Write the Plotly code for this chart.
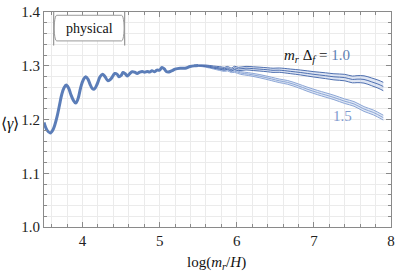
import plotly.graph_objects as go

# ---- data ----
x_main = [3.50, 3.54, 3.58, 3.62, 3.667, 3.70, 3.731, 3.76, 3.788, 3.82, 3.847, 3.88, 3.911, 3.94,
          3.976, 4.01, 4.04, 4.07, 4.096, 4.125, 4.152, 4.19, 4.225, 4.258, 4.29, 4.33, 4.37, 4.418,
          4.45, 4.473, 4.50, 4.524, 4.55, 4.58, 4.61, 4.644, 4.675, 4.708, 4.74, 4.773, 4.805, 4.837,
          4.87, 4.90, 4.935, 4.965, 5.00, 5.03, 5.06, 5.086, 5.11, 5.137, 5.17, 5.20, 5.266, 5.33,
          5.394, 5.45, 5.50]
y_main = [1.1946, 1.180, 1.175, 1.182, 1.204, 1.226, 1.247, 1.259, 1.264, 1.258, 1.247, 1.236, 1.2306,
          1.238, 1.2596, 1.274, 1.2794, 1.275, 1.266, 1.258, 1.2566, 1.266, 1.279, 1.2844, 1.280,
          1.272, 1.276, 1.2855, 1.284, 1.2794, 1.282, 1.2874, 1.2855, 1.281, 1.285, 1.2887, 1.288,
          1.2856, 1.288, 1.2893, 1.288, 1.2893, 1.2885, 1.2905, 1.289, 1.2918, 1.292, 1.2967, 1.294,
          1.2893, 1.2885, 1.2893, 1.2915, 1.2937, 1.2955, 1.2955, 1.2985, 1.2998, 1.3004]

x_10 = [5.40, 5.50, 5.60, 5.70, 5.78, 5.84, 5.88, 5.93, 5.97, 6.02, 6.12, 6.22, 6.30, 6.40, 6.47,
        6.55, 6.70, 6.83, 7.00, 7.15, 7.26, 7.40, 7.50, 7.56, 7.65, 7.75, 7.83, 7.90]
y_10 = [1.2990, 1.3004, 1.2998, 1.2975, 1.2960, 1.2945, 1.2960, 1.2930, 1.2960, 1.2940, 1.2955,
        1.2945, 1.2937, 1.2925, 1.2915, 1.2918, 1.2895, 1.2874, 1.2840, 1.2815, 1.2794, 1.2780,
        1.2745, 1.2751, 1.2745, 1.2700, 1.2660, 1.2614]
err_10 = [0.0008, 0.001, 0.0015, 0.002, 0.0023, 0.0025, 0.0027, 0.0028, 0.003, 0.0031, 0.0033,
          0.0035, 0.0036, 0.0037, 0.0039, 0.004, 0.0043, 0.0046, 0.005, 0.0054, 0.0057, 0.006,
          0.0063, 0.0065, 0.0068, 0.0072, 0.0075, 0.0078]

x_15 = [5.40, 5.50, 5.60, 5.70, 5.78, 5.84, 5.88, 5.93, 5.97, 6.05, 6.15, 6.30, 6.45, 6.55, 6.66,
        6.80, 6.91, 7.05, 7.26, 7.40, 7.52, 7.65, 7.77, 7.90]
y_15 = [1.2990, 1.3000, 1.2985, 1.2955, 1.2930, 1.2915, 1.2925, 1.2895, 1.2900, 1.2865, 1.2845,
        1.2805, 1.2755, 1.2720, 1.2690, 1.2625, 1.2566, 1.2500, 1.2410, 1.2340, 1.2290, 1.2195,
        1.2132, 1.2035]
err_15 = [0.0008, 0.001, 0.0013, 0.0016, 0.0018, 0.002, 0.0021, 0.0022, 0.0023, 0.0025, 0.0027,
          0.003, 0.0032, 0.0033, 0.0035, 0.0036, 0.0038, 0.004, 0.0041, 0.0042, 0.0043, 0.0044,
          0.0045, 0.0045]

x_ticks = [4, 5, 6, 7, 8]
y_ticks = [1.0, 1.1, 1.2, 1.3, 1.4]

SERIF = "Liberation Serif"
BLUE = "#5B7DB8"
BLUE10 = "#4F70B0"
BLUE15 = "#8CA6D6"

fig = go.Figure()


def band(xs, ys, es, line_col, fill_col, w):
    up = [y + e for y, e in zip(ys, es)]
    lo = [y - e for y, e in zip(ys, es)]
    fig.add_trace(go.Scatter(x=xs, y=lo, mode="lines", line=dict(color=line_col, width=w, shape="spline"),
                             hoverinfo="skip", showlegend=False))
    fig.add_trace(go.Scatter(x=xs, y=up, mode="lines", line=dict(color=line_col, width=w, shape="spline"),
                             fill="tonexty", fillcolor=fill_col, hoverinfo="skip", showlegend=False))
    fig.add_trace(go.Scatter(x=xs, y=ys, mode="lines", line=dict(color=line_col, width=w, shape="spline"),
                             hoverinfo="skip", showlegend=False))


band(x_15, y_15, err_15, BLUE15, "rgba(170,192,228,0.35)", 1.0)
band(x_10, y_10, err_10, BLUE10, "rgba(150,172,218,0.30)", 1.0)

fig.add_trace(go.Scatter(x=x_main, y=y_main, mode="lines",
                         line=dict(color=BLUE, width=3, shape="spline", smoothing=1.0),
                         hoverinfo="skip", showlegend=False))

axis_common = dict(
    showline=True, linecolor="#8a8a8a", linewidth=1, mirror="ticks",
    ticks="inside", ticklen=5, tickcolor="#8a8a8a", tickwidth=1,
    showgrid=True, gridcolor="#ebebeb", gridwidth=1, zeroline=False,
    tickfont=dict(family=SERIF, size=15, color="#222"),
)

fig.update_layout(
    width=399, height=274,
    margin=dict(l=44, r=4, t=11, b=47),
    paper_bgcolor="white", plot_bgcolor="white",
    font=dict(family=SERIF),
    xaxis=dict(range=[3.5, 8], tickvals=x_ticks, ticktext=[str(v) for v in x_ticks],
               minor=dict(dtick=0.2, tick0=3.4, ticks="inside", ticklen=3, tickcolor="#8a8a8a",
                          showgrid=True, gridcolor="#ebebeb"),
               **axis_common),
    yaxis=dict(range=[1.0, 1.4], tickvals=y_ticks, ticktext=["%.1f" % v for v in y_ticks],
               minor=dict(dtick=0.02, tick0=1.0, ticks="inside", ticklen=3, tickcolor="#8a8a8a",
                          showgrid=True, gridcolor="#ebebeb"),
               **axis_common),
)

# "physical" box (rounded rectangle)
x0, x1, y0, y1 = 3.625, 4.546, 1.3462, 1.3939
rx, ry = 0.04, 0.056
path = (f"M {x0+rx},{y0} L {x1-rx},{y0} Q {x1},{y0} {x1},{y0+ry} L {x1},{y1-ry} "
        f"Q {x1},{y1} {x1-rx},{y1} L {x0+rx},{y1} Q {x0},{y1} {x0},{y1-ry} L {x0},{y0+ry} "
        f"Q {x0},{y0} {x0+rx},{y0} Z")
fig.add_shape(type="path", path=path, xref="x", yref="y",
              line=dict(color="#9a9a9a", width=1), fillcolor="white", layer="above")
fig.add_annotation(x=(x0 + x1) / 2, y=(y0 + y1) / 2, xref="x", yref="y", text="physical",
                   showarrow=False, font=dict(family=SERIF, size=14, color="#111"))

fig.add_annotation(x=7.04, y=1.3184, xref="x", yref="y", showarrow=False,
                   text="<i>m<sub>r</sub></i> Δ<sub><i>f</i></sub> = <span style='color:#5E81B5'>1.0</span>",
                   font=dict(family=SERIF, size=15, color="#111"))
fig.add_annotation(x=7.365, y=1.207, xref="x", yref="y", showarrow=False, text="1.5",
                   font=dict(family=SERIF, size=15, color="#7F9BCF"))

fig.add_annotation(x=-0.097, y=1.192, xref="paper", yref="y", showarrow=False, text="⟨<i>γ</i>⟩",
                   xanchor="center", font=dict(family=SERIF, size=16, color="#111"))
fig.add_annotation(x=5.733, y=-0.169, xref="x", yref="paper", showarrow=False, yanchor="middle",
                   text="log(<i>m<sub>r</sub></i>/<i>H</i>)",
                   font=dict(family=SERIF, size=15, color="#111"))

fig.write_html("out.html", config={"displayModeBar": False},
               post_script="document.body.style.margin='0';document.body.style.padding='0';")
